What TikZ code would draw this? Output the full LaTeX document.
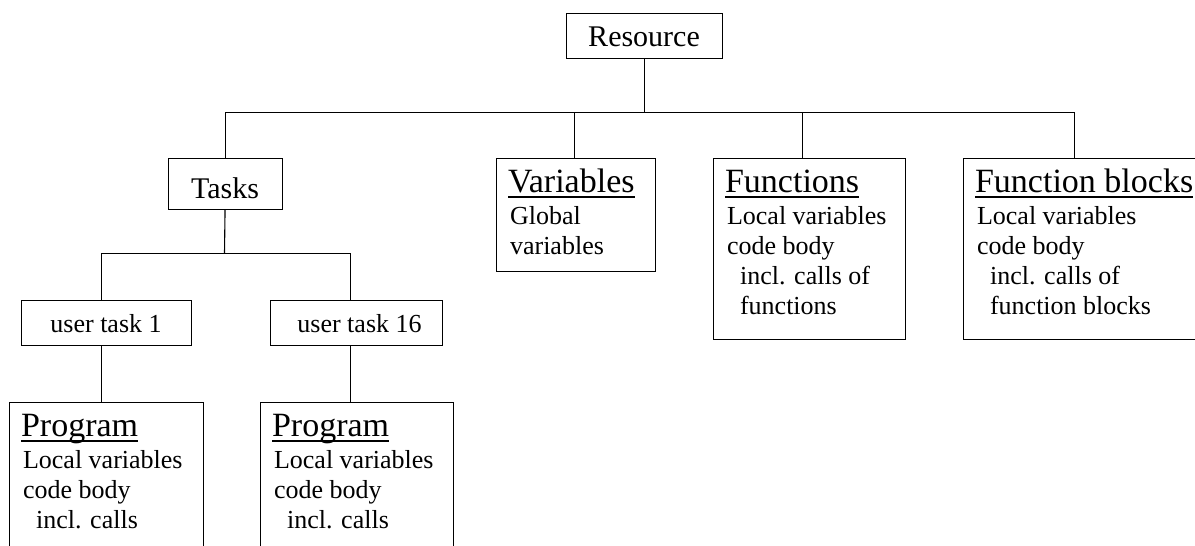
\documentclass[tikz,border=0pt]{standalone}
\usepackage{fontspec}
\setmainfont{Liberation Serif}
\newcommand\myul[1]{\setbox0=\hbox{#1}\rlap{\rule[-6pt]{\wd0}{2pt}}\box0}
\newcommand\bodyline[2][0pt]{\hspace*{\dimexpr2pt+#1\relax}\mbox{#2}\par}
\newcommand\boxbody[4]{\parbox[c][#2][t]{#1}{\fontsize{34}{36}\selectfont\rule{0pt}{34pt}\myul{#3}\par\vspace{2pt}\fontsize{26}{30}\selectfont #4}}
\tikzset{
  ln/.style={line width=1.1pt},
  sbox/.style={draw, line width=1.1pt, anchor=north west, inner sep=0pt},
  big/.style={font=\fontsize{30}{36}\selectfont},
  small/.style={font=\fontsize{26}{30}\selectfont},
  cbox/.style={draw, line width=1.1pt, anchor=north west, inner xsep=12pt, inner ysep=0pt},
}
\begin{document}
\begin{tikzpicture}[x=1pt,y=-1pt]
\path[use as bounding box] (0,0) rectangle (1195,546);
\clip (0,0) rectangle (1195,546);
% nodes
\node[sbox,big,minimum width=156pt,text height=33pt,text depth=12pt] (res) at (565.5,12.5) {Resource};
\node[sbox,big,minimum width=114pt,text height=40pt,text depth=11pt] (tasks) at (167.5,157.5) {Tasks};
\node[sbox,small,minimum width=170pt,text height=32pt,text depth=13pt] (ut1) at (20.5,299.5) {user task 1\hspace{8pt}};
\node[sbox,small,minimum width=172pt,text height=32pt,text depth=13pt] (ut16) at (269.5,299.5) {\hspace{7pt}user task 16};
\node[cbox] (vars) at (495.5,157.5) {\boxbody{135pt}{113pt}{Variables}{\bodyline{Global}\bodyline{variables}}};
\node[cbox] (funcs) at (712.5,157.5) {\boxbody{168pt}{181pt}{Functions}{\bodyline{Local variables}\bodyline{code body}\bodyline[13pt]{incl. calls of}\bodyline[13pt]{functions}}};
\node[cbox] (fb) at (962.5,157.5) {\boxbody{226pt}{181pt}{Function blocks}{\bodyline{Local variables}\bodyline{code body}\bodyline[13pt]{incl. calls of}\bodyline[13pt]{function blocks}}};
\node[cbox] (prog1) at (8.5,401.5) {\boxbody{170pt}{160pt}{Program}{\bodyline{Local variables}\bodyline{code body}\bodyline[13pt]{incl. calls}}};
\node[cbox] (prog2) at (259.5,401.5) {\boxbody{169pt}{160pt}{Program}{\bodyline{Local variables}\bodyline{code body}\bodyline[13pt]{incl. calls}}};
% connector points
\coordinate (bus) at (643.5,112.5);
\coordinate (vn) at ([xshift=79pt]vars.north west);
\coordinate (fn) at ([xshift=90pt]funcs.north west);
\coordinate (fbn) at ([xshift=112pt]fb.north west);
\coordinate (b2) at (224.5,253.5);
\coordinate (u1) at ([xshift=-5pt]ut1.north);
\coordinate (u16) at ([xshift=-6pt]ut16.north);
\coordinate (p1) at ([xshift=-5pt]prog1.north);
\coordinate (p2) at ([xshift=-6.5pt]prog2.north);
% connectors
\draw[ln] (res.south) -- (res.south |- bus);
\draw[ln] (tasks.north) |- (bus) -| (fbn);
\draw[ln] (vn) -- (vn |- bus);
\draw[ln] (fn) -- (fn |- bus);
\draw[ln] (tasks.south) -- (b2);
\draw[ln] (u1) |- (b2) -| (u16);
\draw[ln] (ut1.south -| u1) -- (p1);
\draw[ln] (ut16.south -| u16) -- (p2);
\end{tikzpicture}
\end{document}
